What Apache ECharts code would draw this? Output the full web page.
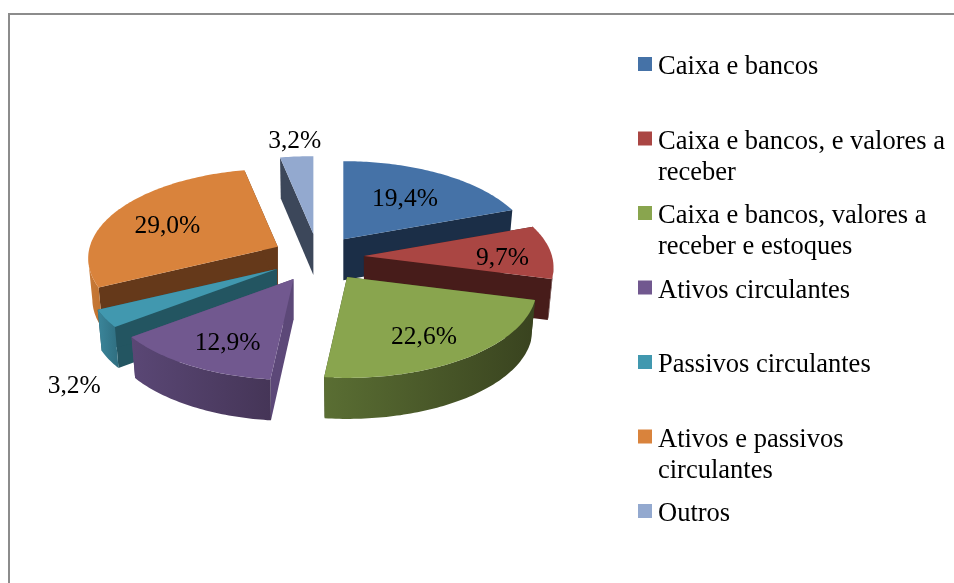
<!DOCTYPE html>
<html>
<head>
<meta charset="utf-8">
<script src="https://cdn.jsdelivr.net/npm/echarts@6/dist/echarts.min.js"></script>
<style>html,body{margin:0;padding:0;background:#fff}#c{width:954px;height:583px}</style>
</head>
<body>
<div id="c"></div>
<script>
const categories = ['Caixa e bancos', 'Caixa e bancos, e valores a\nreceber', 'Caixa e bancos, valores a\nreceber e estoques', 'Ativos circulantes', 'Passivos circulantes', 'Ativos e passivos\ncirculantes', 'Outros'];
const shares = [19.4, 9.7, 22.6, 12.9, 3.2, 29.0, 3.2];
const topColors = ['#4572A7', '#AA4643', '#89A54E', '#71588F', '#4198AF', '#D9833C', '#93A9CF'];
const wallColors = ['#1B2E47', '#471C1A', '#39431F', '#5C4878', '#235561', '#65391A', '#3C475A'];
const rimLeft = ['#2A4566', '#471C1A', '#5A6E33', '#5A4775', '#3B869B', '#C87A38', '#6F809C'];
const rimRight = ['#1B2E47', '#471C1A', '#39431F', '#453557', '#2F6E80', '#C0722F', '#3C475A'];
const labelFraction = [0.62, 0.73, 0.67, 0.68, 1, 0.68, 1.2];
const labelNudge = [[-1, 2], [2, 5], [0, 8], [2, 8], [-31, 68], [0, 5], [1, -2]];
const sliceNudge = [[-1, 1], [0, 0], [3, 1], [-2, 2], [-2, 0], [1, 0], [0, 0]];

// Pie projection (perspective ellipse)
const PX = 188, PY = 88, PERSP = 0.1285, DEPTH = 41, SHRINK = 0.978;
const EXPLODE_X = 46, EXPLODE_Y = 23, CX = 318, CY = 257, RIM_V = 0.13;
const project = (deg, r) => {
  const t = deg * Math.PI / 180, u = Math.sin(t) * r, v = -Math.cos(t) * r, w = 1 - PERSP * v;
  return [PX * u / w, PY * v / w];
};
const total = shares.reduce((a, b) => a + b, 0);
const starts = shares.map((_, i) => shares.slice(0, i).reduce((a, b) => a + b, 0) / total * 360);
const midV = shares.map((s, i) => -Math.cos((starts[i] + s / total * 180) * Math.PI / 180));
const drawRank = midV.map(v => midV.filter(o => o < v).length);

function sliceRenderer(i) {
  return function (params, api) {
    const value = api.value(0);
    const a0 = starts[i], a1 = a0 + value / total * 360, mid = (a0 + a1) / 2;
    const t = mid * Math.PI / 180;
    const apex = [CX + EXPLODE_X * Math.sin(t) + sliceNudge[i][0], CY - EXPLODE_Y * Math.cos(t) + sliceNudge[i][1]];
    const arc = [], frontArc = [];
    const n = Math.max(8, Math.ceil(a1 - a0));
    for (let k = 0; k <= n; k++) {
      const a = a0 + (a1 - a0) * k / n;
      const p = project(a, 1);
      const q = [apex[0] + p[0], apex[1] + p[1]];
      arc.push(q);
      if (-Math.cos(a * Math.PI / 180) >= RIM_V) frontArc.push(q);
    }
    const down = p => [apex[0] + (p[0] - apex[0]) * SHRINK, p[1] + DEPTH];
    const wall = e => ({
      type: 'polygon',
      shape: { points: [apex, e, down(e), down(apex)] },
      style: { fill: wallColors[i] }
    });
    const rimGrad = { type: 'linear', x: 0, y: 0, x2: 1, y2: 0, colorStops: [
      { offset: 0, color: rimLeft[i] }, { offset: 1, color: rimRight[i] }] };
    const lm = project(mid, labelFraction[i]);
    const children = [wall(arc[0]), wall(arc[n])];
    if (frontArc.length > 1) {
      children.push({ type: 'polygon', shape: { points: frontArc.concat(frontArc.slice().reverse().map(down)) }, style: { fill: rimGrad } });
    }
    children.push(
      { type: 'polygon', shape: { points: [apex].concat(arc) }, style: { fill: topColors[i] } },
      { type: 'text', z2: 10, style: {
          text: value.toFixed(1).replace('.', ',') + '%',
          x: apex[0] + lm[0] + labelNudge[i][0], y: apex[1] + lm[1] + labelNudge[i][1],
          align: 'center', verticalAlign: 'middle',
          font: '25.5px "Liberation Serif"', fill: '#000' } }
    );
    return { type: 'group', children };
  };
}

const LEGEND_TOP = 52, LEGEND_STEP = 74.5, LINE = 31;
const chart = echarts.init(document.getElementById('c'), null, { renderer: 'canvas' });
chart.setOption({
  animation: false,
  backgroundColor: '#fff',
  graphic: [{
    type: 'polyline',
    shape: { points: [[9, 583], [9, 14], [954, 14]] },
    style: { stroke: '#8c8c8c', lineWidth: 2, fill: 'none' }
  }],
  legend: categories.map((name, i) => {
    const h = name.includes('\n') ? 52 : 21;
    return {
      left: 638,
      top: LEGEND_TOP + i * LEGEND_STEP,
      padding: 0,
      orient: 'vertical',
      selectedMode: false,
      itemWidth: 15,
      itemHeight: h,
      itemGap: 0,
      textStyle: { fontFamily: 'Liberation Serif', fontSize: 26.5, color: '#000', lineHeight: LINE },
      data: [{
        name,
        icon: 'path://M0 0H14V14H0Z M15 ' + h + 'H15',
        itemStyle: { color: topColors[i], borderWidth: 0 }
      }]
    };
  }),
  series: categories.map((name, i) => ({
    type: 'custom',
    name,
    coordinateSystem: 'none',
    z: 2 + drawRank[i],
    clip: false,
    silent: true,
    itemStyle: { color: topColors[i] },
    renderItem: sliceRenderer(i),
    data: [shares[i]]
  }))
});
</script>
</body>
</html>
